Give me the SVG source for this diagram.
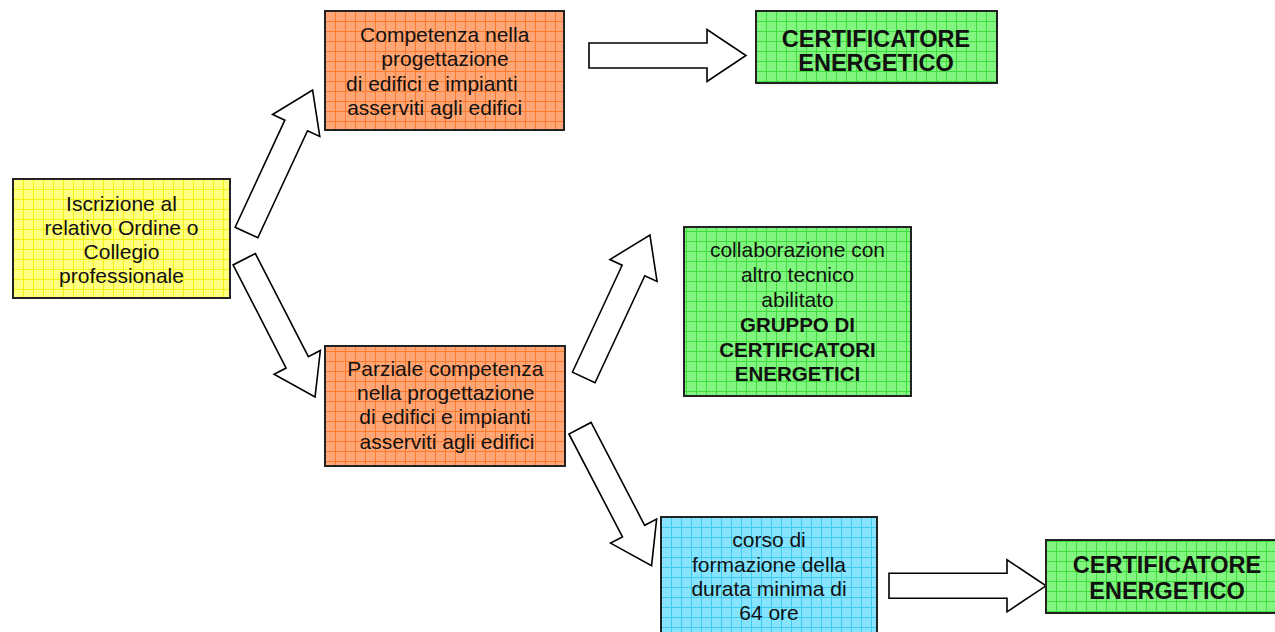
<svg xmlns="http://www.w3.org/2000/svg" xmlns:xlink="http://www.w3.org/1999/xlink" width="1275" height="632" viewBox="0 0 1275 632">
<style>
.box{stroke:#222;stroke-width:2}
.t{font-family:"Liberation Sans",Arial,Helvetica,sans-serif;font-size:21px;fill:#111;text-anchor:middle}
.b{font-weight:bold;font-size:20.5px}
.big{font-size:23.5px}
.arr{fill:#fff;stroke:#000;stroke-width:1.6;stroke-linejoin:miter}
</style>
<defs>
<pattern id="gy" patternUnits="userSpaceOnUse" width="10" height="10" x="3" y="9"><rect width="10" height="10" fill="#ffff80"/><path d="M0 0.5H10M0.5 0V10" stroke="#f4f010" stroke-width="1"/></pattern>
<pattern id="go" patternUnits="userSpaceOnUse" width="10" height="10" x="5" y="1"><rect width="10" height="10" fill="#ffa676"/><path d="M0 0.5H10M0.5 0V10" stroke="#ff7a2c" stroke-width="1"/></pattern>
<pattern id="gg" patternUnits="userSpaceOnUse" width="10" height="10" x="6" y="1"><rect width="10" height="10" fill="#82f580"/><path d="M0 0.5H10M0.5 0V10" stroke="#3ddd3d" stroke-width="1"/></pattern>
<pattern id="gb" patternUnits="userSpaceOnUse" width="10" height="10" x="1" y="7"><rect width="10" height="10" fill="#86e4ff"/><path d="M0 0.5H10M0.5 0V10" stroke="#3ccaf2" stroke-width="1"/></pattern>
<polygon id="a157" points="0,-12.5 118,-12.5 118,-26 157,0 118,26 118,12.5 0,12.5"/>
<polygon id="a155" points="0,-12.5 116,-12.5 116,-26 155,0 116,26 116,12.5 0,12.5"/>
</defs>
<rect width="1275" height="632" fill="#fff"/>
<g id="connectors">
<use xlink:href="#a157" class="arr" transform="translate(246.5,232.5) rotate(-65.1)"/>
<use xlink:href="#a155" class="arr" transform="translate(244.2,259.2) rotate(62.8)"/>
<use xlink:href="#a157" class="arr" transform="translate(589,55.5)"/>
<use xlink:href="#a157" class="arr" transform="translate(583.7,377.5) rotate(-65.05)"/>
<use xlink:href="#a155" class="arr" transform="translate(580,428.2) rotate(62.5)"/>
<use xlink:href="#a157" class="arr" transform="translate(889,585.8)"/>
</g>
<g id="iscrizione">
<rect class="box" x="13" y="179" width="217" height="119" fill="url(#gy)"/>
<text class="t" x="121.5" y="210.5">Iscrizione al</text>
<text class="t" x="121.5" y="235">relativo Ordine o</text>
<text class="t" x="121.5" y="259.3">Collegio</text>
<text class="t" x="121.5" y="283">professionale</text>
</g>
<g id="competenza">
<rect class="box" x="325" y="11" width="239" height="119" fill="url(#go)"/>
<text class="t" x="444.7" y="42.3">Competenza nella</text>
<text class="t" x="445" y="66">progettazione</text>
<text class="t" x="431.8" y="90.5">di edifici e impianti</text>
<text class="t" x="434.7" y="114.5">asserviti agli edifici</text>
</g>
<g id="certificatore1">
<rect class="box" x="756" y="11" width="241" height="72" fill="url(#gg)"/>
<text class="t b big" x="876" y="46.7">CERTIFICATORE</text>
<text class="t b big" x="876" y="70.7">ENERGETICO</text>
</g>
<g id="parziale">
<rect class="box" x="325" y="346" width="240" height="120" fill="url(#go)"/>
<text class="t" x="445.3" y="376">Parziale competenza</text>
<text class="t" x="445.8" y="400">nella progettazione</text>
<text class="t" x="445" y="424.3">di edifici e impianti</text>
<text class="t" x="447" y="448.5">asserviti agli edifici</text>
</g>
<g id="gruppo">
<rect class="box" x="684" y="227" width="227" height="169" fill="url(#gg)"/>
<text class="t" x="797.5" y="257.3">collaborazione con</text>
<text class="t" x="797.5" y="282">altro tecnico</text>
<text class="t" x="797.5" y="307">abilitato</text>
<text class="t b" x="797.5" y="331.7">GRUPPO DI</text>
<text class="t b" x="797.5" y="356.5">CERTIFICATORI</text>
<text class="t b" x="797.5" y="380.7">ENERGETICI</text>
</g>
<g id="corso">
<rect class="box" x="661" y="517" width="216" height="130" fill="url(#gb)"/>
<text class="t" x="769" y="546.7">corso di</text>
<text class="t" x="769" y="571.5">formazione della</text>
<text class="t" x="769" y="595.5">durata minima di</text>
<text class="t" x="769" y="620">64 ore</text>
</g>
<g id="certificatore2">
<rect class="box" x="1046" y="540" width="241" height="73" fill="url(#gg)"/>
<text class="t b big" x="1167" y="572.7">CERTIFICATORE</text>
<text class="t b big" x="1167" y="599">ENERGETICO</text>
</g>
</svg>
